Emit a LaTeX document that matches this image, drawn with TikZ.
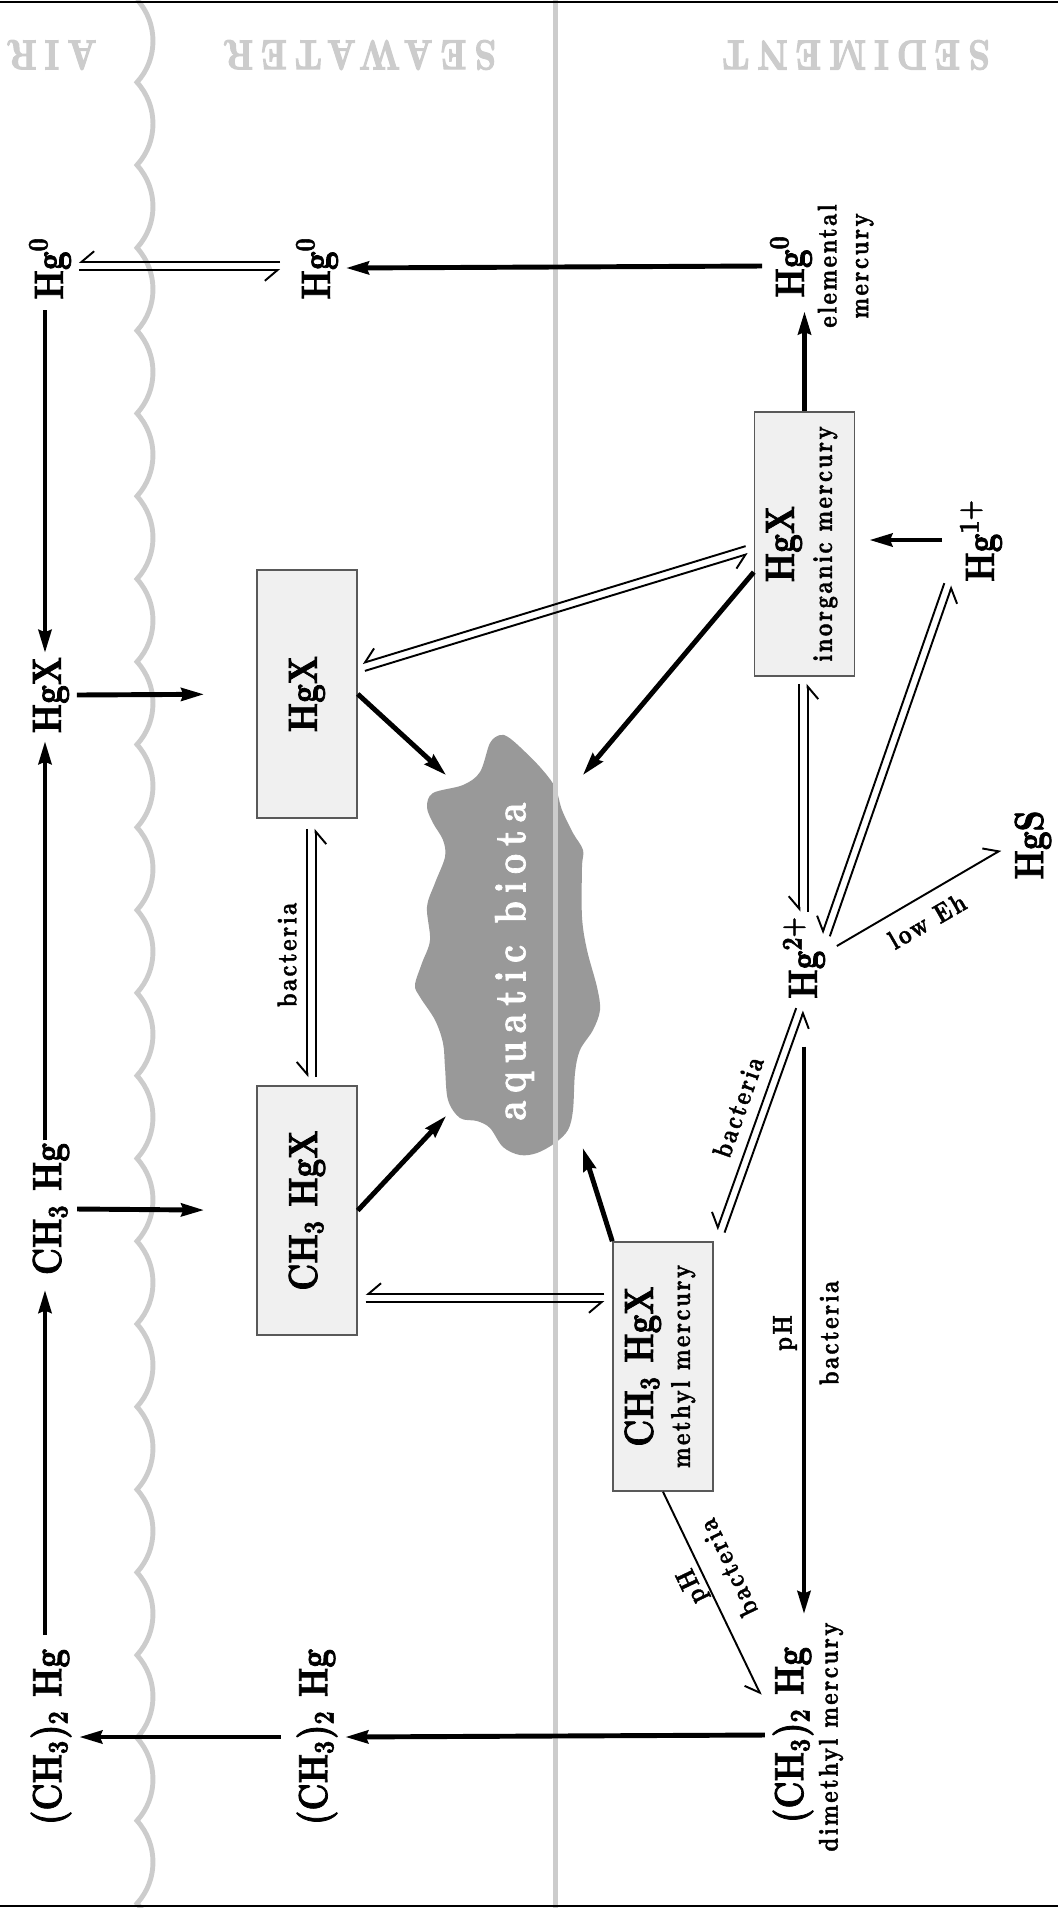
\documentclass[tikz,border=0pt]{standalone}
\usepackage{fontspec}
\setmainfont{lmroman10-regular.otf}[BoldFont=lmroman10-bold.otf,BoldFeatures={FakeBold=1.8},FakeStretch=0.8]
\newfontfamily\spacedfont{lmroman10-regular.otf}[BoldFont=lmroman10-bold.otf,BoldFeatures={FakeBold=1.4},FakeStretch=0.8,LetterSpace=9]
\newfontfamily\headfont{lmroman10-regular.otf}[BoldFont=lmroman10-bold.otf,BoldFeatures={FakeBold=2.5},FakeStretch=0.8,LetterSpace=19]
\newfontfamily\biotafont{lmroman10-regular.otf}[BoldFont=lmroman10-bold.otf,BoldFeatures={FakeBold=1.6},FakeStretch=0.8,LetterSpace=18]
\usepackage{graphicx}
\usetikzlibrary{arrows.meta,calc}

\definecolor{divgrey}{gray}{0.8}
\definecolor{biotagrey}{gray}{0.6}
\definecolor{boxfill}{gray}{0.94}
\definecolor{boxline}{gray}{0.35}

\newcommand\chemfont{\fontsize{11.6}{13}\selectfont\bfseries}
\newcommand\labfont{\spacedfont\fontsize{7.7}{9}\selectfont\bfseries}
\newcommand\uprot[1]{\rotatebox{90}{#1}}
% one harpoon each way, side by side
\newcommand\eqarrows[2]{%
  \draw[eqline] ($(#1)!1.15pt!-90:(#2)$) -- ($(#2)!1.15pt!90:(#1)$);
  \draw[eqline] ($(#2)!1.15pt!-90:(#1)$) -- ($(#1)!1.15pt!90:(#2)$);
}

\tikzset{
  flow/.style={line width=1.4pt,-{Stealth[length=6.5pt,width=3.6pt,inset=0.6pt]}},
  eqline/.style={line width=0.55pt,-{Straight Barb[harpoon,swap,length=3.6pt,width=6.1pt]}},
  thinflow/.style={line width=0.55pt},
  spc/.style={inner sep=2pt,font=\chemfont},
  pool/.style={draw=boxline,line width=0.4pt,fill=boxfill,minimum width=1cm,inner sep=0pt},
  tag/.style={inner sep=0pt,font=\labfont},
  header/.style={text=divgrey,font=\headfont\fontsize{12}{14}\selectfont\bfseries,rotate=180,inner sep=0pt},
  divider/.style={divgrey,line width=1.4pt}
}

\begin{document}
\begin{tikzpicture}[x=0.01cm,y=-0.01cm]
  \useasboundingbox (0,0) rectangle (1058,1908);

  % aquatic biota blob
  \fill[biotagrey] plot[smooth cycle,tension=0.55] coordinates {
    (508,737) (520,747) (540,767) (555,787) (562,810) (573,833) (583,850)
    (582,867) (582,917) (587,950) (597,987) (600,1010) (593,1030) (580,1050)
    (575,1073) (573,1110) (568,1130) (555,1143) (537,1153) (520,1155)
    (503,1147) (490,1128) (477,1121) (460,1118) (448,1100) (445,1067)
    (443,1043) (435,1020) (420,997) (415,985) (422,963) (430,940) (427,907)
    (435,883) (445,857) (443,840) (433,823) (427,807) (433,793) (463,785)
    (480,772) (490,743) (500,735)};

  % borders between air, seawater and sediment
  \draw[divider] (137,-0.5)
    \foreach \k in {0,...,23} {
      .. controls (158.3,{\k*82.78+23}) and (158.3,{\k*82.78+59}) .. (137,{(\k+1)*82.78-0.5})
    };
  \draw[divider,line width=1.55pt] (555.5,0) -- (555.5,1908);
  \draw[line width=0.65pt] (0,2) -- (1058,2);
  \draw[line width=0.65pt] (0,1906) -- (1058,1906);

  \node[header] (airhead) at (52,55) {AIR};
  \node[header] (seahead) at (360,55) {SEAWATER};
  \node[header] (sedhead) at (856,55) {SEDIMENT};

  % air
  \node[spc] (hg0air) at (50,268) {\uprot{Hg\textsuperscript{0}}};
  \node[spc] (hgxair) at (51,695) {\uprot{HgX}};
  \node[spc] (mhgair) at (51,1209) {\uprot{CH\textsubscript{3} Hg}};
  \node[spc] (dmhgair) at (51,1737) {\uprot{(CH\textsubscript{3})\textsubscript{2} Hg}};

  % seawater
  \node[spc] (hg0sea) at (317,268) {\uprot{Hg\textsuperscript{0}}};
  \node[pool,minimum height=2.48cm] (hgxsea) at (307,694) {\uprot{\chemfont HgX}};
  \node[pool,minimum height=2.49cm] (mhgxsea) at (307,1210.5) {\uprot{\chemfont CH\textsubscript{3} HgX}};
  \node[spc] (dmhgsea) at (317,1737) {\uprot{(CH\textsubscript{3})\textsubscript{2} Hg}};
  \node[minimum width=1.35cm,minimum height=3.71cm,inner sep=0pt] (biota) at (514.5,961.5)
    {\uprot{\biotafont\fontsize{12.5}{14}\selectfont\bfseries\color{white}aquatic biota}};

  % sediment
  \node[spc] (hg0sed) at (791,266) {\uprot{Hg\textsuperscript{0}}};
  \node[tag] (hg0tag) at (846,266) {\uprot{\begin{tabular}{@{}c@{}}elemental\\mercury\end{tabular}}};
  \node[pool,minimum height=2.64cm] (hgxsed) at (804.5,544)
    {\uprot{\begin{tabular}{@{}c@{}}\chemfont HgX\\[-1.2pt]\labfont inorganic mercury\end{tabular}}};
  \node[spc] (hg1) at (981,540) {\uprot{Hg\textsuperscript{1+}}};
  \node[spc] (hg2) at (804,957) {\uprot{Hg\textsuperscript{2+}}};
  \node[spc] (hgs) at (1033,845) {\uprot{HgS}};
  \node[pool,minimum height=2.49cm] (mhgxsed) at (663,1366.5)
    {\uprot{\begin{tabular}{@{}c@{}}\chemfont CH\textsubscript{3} HgX\\[-1.5pt]\labfont methyl mercury\end{tabular}}};
  \node[spc] (dmhgsed) at (793,1735) {\uprot{(CH\textsubscript{3})\textsubscript{2} Hg}};
  \node[tag] (dmhgtag) at (831,1737) {\uprot{dimethyl mercury}};

  % labels on the connectors
  \node[tag,rotate=90] (bactsea) at (287,955) {bacteria};
  \node[tag,rotate=70.6] (bactsed) at (738,1107) {bacteria};
  \node[tag,rotate=30] (loweh) at (927,921) {low Eh};
  \node[tag,rotate=90] (phdown) at (785,1333) {pH};
  \node[tag,rotate=90] (bactdown) at (829,1333) {bacteria};
  \node[tag,rotate=115.5] (phslant) at (693,1586) {pH};
  \node[tag,rotate=115.5] (bactslant) at (728,1568) {bacteria};

  % air column arrows
  \draw[flow] ([shift={(-5,3)}]hg0air.south) -- ([shift={(-6,4)}]hgxair.north);
  \draw[flow] ([shift={(-6,5)}]mhgair.north) -- ([shift={(-6,0)}]hgxair.south);
  \draw[flow] ([shift={(-6,-6)}]dmhgair.north) -- ([shift={(-6,7)}]mhgair.south);
  \draw[flow,shorten >=0.52cm] (hgxair.east) -- (hgxsea.west);
  \draw[flow,shorten >=0.52cm] (mhgair.east) -- (mhgxsea.west);

  % horizontal transport
  \draw[flow] (hg0sed.west) -- (hg0sea.east);
  \draw[flow] (dmhgsed.west) -- (dmhgsea.east);
  \draw[flow] ([shift={(-8,0)}]dmhgsea.west) -- (dmhgair.east);

  % into the biota
  \draw[flow] (hgxsea.east) -- (biota.north west);
  \draw[flow] (mhgxsea.east) -- ([shift={(0,-32)}]biota.south west);
  \draw[flow] (hgxsed.209) -- (biota.north east);
  \draw[flow] (mhgxsed.north west) -- (biota.south east);

  % sediment reactions
  \draw[flow,shorten >=0.06cm] (hgxsed.north) -- (hgxsed.north |- hg0sed.south);
  \draw[flow,shorten <=0.1cm,shorten >=0.14cm] (hg1.west) -- (hg1.west -| hgxsed.east);
  \draw[flow,shorten <=0.4cm,shorten >=0.25cm] (hg2.south) -- (hg2.south |- dmhgsed.north);
  \draw[thinflow,-{Straight Barb[harpoon,length=3.6pt,width=6.1pt]}]
    ([shift={(4,-11)}]hg2.east) -- ([shift={(-6,5)}]hgs.west);
  \draw[thinflow,-{Straight Barb[harpoon,swap,length=3.6pt,width=6.1pt]}]
    (mhgxsed.south) -- ([shift={(-4,-40)}]dmhgsed.west);

  % equilibria
  \eqarrows{[shift={(0,-2)}]hg0air.east}{[shift={(-8,-2)}]hg0sea.west}
  \eqarrows{[shift={(6,-27)}]hgxsea.east}{[shift={(-7,6)}]hgxsed.west}
  \eqarrows{[shift={(4.5,10)}]hgxsea.south}{[shift={(4.5,-8)}]mhgxsea.north}
  \eqarrows{[shift={(8,87.5)}]mhgxsea.east}{[shift={(-8,-68.5)}]mhgxsed.west}
  \eqarrows{[shift={(-1,7)}]hgxsed.south}{[shift={(-0.5,4)}]hg2.north}
  \eqarrows{[shift={(22,-22)}]hg2.center}{[shift={(-4,-5)}]hg1.south west}
  \eqarrows{[shift={(-4,3)}]hg2.south}{[shift={(7,-10)}]mhgxsed.north east}
\end{tikzpicture}
\end{document}
